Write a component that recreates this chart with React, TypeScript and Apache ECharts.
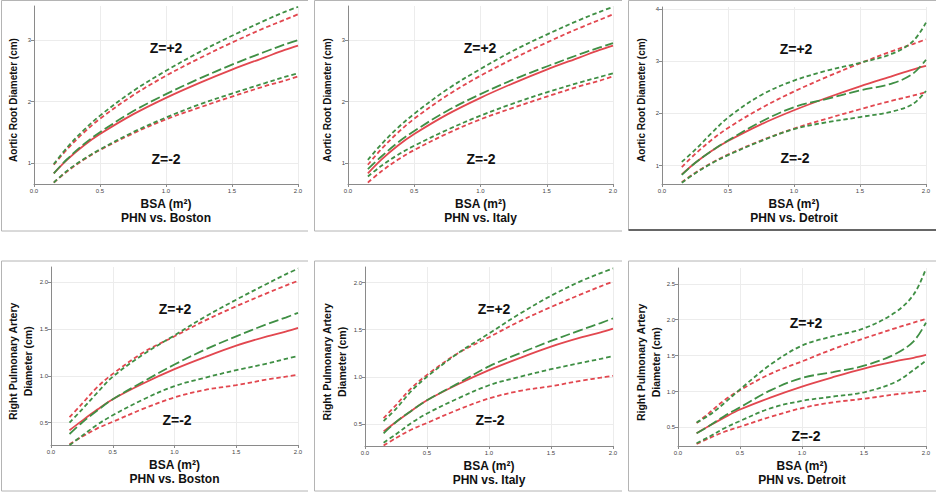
import React, { useEffect, useRef } from "react";
import * as echarts from "echarts";

// ---- Data ----
const BSA = [0.15, 0.25, 0.375, 0.5, 0.75, 1.0, 1.25, 1.5, 1.75, 1.9, 2.0];
const X_TICKS = [0, 0.5, 1, 1.5, 2];

// Aortic root, PHN reference (red)
const AOR_PHN_MEAN = [0.83, 1.05, 1.28, 1.47, 1.79, 2.06, 2.3, 2.52, 2.72, 2.84, 2.91];
const AOR_PHN_PLUS2 = [0.97, 1.22, 1.49, 1.72, 2.1, 2.42, 2.7, 2.96, 3.2, 3.33, 3.42];
const AOR_PHN_MINUS2 = [0.68, 0.86, 1.05, 1.21, 1.48, 1.71, 1.9, 2.08, 2.25, 2.34, 2.41];
// Aortic root, Boston (green)
const AOR_BOS_MEAN = [0.83, 1.06, 1.3, 1.5, 1.84, 2.12, 2.37, 2.6, 2.81, 2.93, 3.0];
const AOR_BOS_PLUS2 = [0.98, 1.25, 1.53, 1.77, 2.17, 2.5, 2.8, 3.07, 3.32, 3.46, 3.54];
const AOR_BOS_MINUS2 = [0.68, 0.87, 1.06, 1.22, 1.5, 1.74, 1.95, 2.13, 2.3, 2.4, 2.46];
// Aortic root, Italy (green)
const AOR_ITA_MEAN = [0.9, 1.1, 1.33, 1.52, 1.85, 2.12, 2.36, 2.57, 2.77, 2.88, 2.95];
const AOR_ITA_PLUS2 = [1.05, 1.3, 1.57, 1.8, 2.2, 2.53, 2.83, 3.09, 3.33, 3.46, 3.54];
const AOR_ITA_MINUS2 = [0.78, 0.95, 1.13, 1.28, 1.54, 1.77, 1.97, 2.15, 2.31, 2.4, 2.46];
// Aortic root, Detroit (green)
const AOR_DET_MEAN = [0.82, 1.05, 1.28, 1.48, 1.84, 2.12, 2.28, 2.44, 2.58, 2.76, 3.03];
const AOR_DET_PLUS2 = [1.07, 1.3, 1.62, 1.92, 2.35, 2.63, 2.82, 2.97, 3.15, 3.38, 3.74];
const AOR_DET_MINUS2 = [0.67, 0.85, 1.04, 1.2, 1.47, 1.7, 1.83, 1.93, 2.04, 2.18, 2.43];

// Right pulmonary artery, PHN reference (red)
const RPA_PHN_MEAN = [0.42, 0.52, 0.64, 0.75, 0.92, 1.07, 1.2, 1.32, 1.42, 1.47, 1.51];
const RPA_PHN_PLUS2 = [0.56, 0.7, 0.88, 1.02, 1.25, 1.42, 1.59, 1.74, 1.88, 1.96, 2.01];
const RPA_PHN_MINUS2 = [0.27, 0.35, 0.44, 0.51, 0.65, 0.77, 0.85, 0.9, 0.96, 0.99, 1.01];
// RPA, Boston (green)
const RPA_BOS_MEAN = [0.38, 0.5, 0.63, 0.75, 0.94, 1.12, 1.28, 1.42, 1.55, 1.62, 1.67];
const RPA_BOS_PLUS2 = [0.5, 0.64, 0.82, 0.99, 1.23, 1.43, 1.63, 1.81, 1.98, 2.08, 2.14];
const RPA_BOS_MINUS2 = [0.26, 0.36, 0.48, 0.58, 0.75, 0.89, 0.98, 1.06, 1.13, 1.18, 1.21];
// RPA, Italy (green)
const RPA_ITA_MEAN = [0.4, 0.52, 0.64, 0.75, 0.93, 1.11, 1.25, 1.38, 1.5, 1.57, 1.62];
const RPA_ITA_PLUS2 = [0.53, 0.66, 0.85, 1.0, 1.25, 1.46, 1.67, 1.86, 2.02, 2.1, 2.15];
const RPA_ITA_MINUS2 = [0.3, 0.39, 0.51, 0.61, 0.77, 0.91, 1.0, 1.08, 1.15, 1.19, 1.22];
// RPA, Detroit (green)
const RPA_DET_MEAN = [0.42, 0.52, 0.66, 0.78, 1.02, 1.19, 1.27, 1.36, 1.52, 1.7, 1.96];
const RPA_DET_PLUS2 = [0.57, 0.67, 0.84, 1.03, 1.38, 1.64, 1.77, 1.88, 2.1, 2.35, 2.71];
const RPA_DET_MINUS2 = [0.28, 0.37, 0.49, 0.59, 0.77, 0.87, 0.93, 0.99, 1.13, 1.3, 1.43];

const AOR_TICKS_3 = [1, 2, 3];
const AOR_TICKS_4 = [1, 2, 3, 4];
const RPA_TICKS_4 = [0.5, 1.0, 1.5, 2.0];
const RPA_TICKS_5 = [0.5, 1.0, 1.5, 2.0, 2.5];

const TITLES = ["PHN vs. Boston", "PHN vs. Italy", "PHN vs. Detroit"];
const X_NAME = "BSA (m²)";
const Y_NAME_AOR = "Aortic Root Diameter (cm)";
const Y_NAME_RPA = "Right Pulmonary Artery\nDiameter (cm)";

// ---- Styles / layout ----
const RED = "#e2474f";
const GREEN = "#3f8f44";
const SHORT_DASH = [4.5, 2.8];
const LONG_DASH = [10, 3.5];
const FONT = '"Liberation Sans", Arial, sans-serif';

interface Panel {
  grid: { left: number; top: number; width: number; height: number };
  yMin: number;
  yMax: number;
  yTicks: number[];
  intLabels: boolean;
  title: string;
  yName: string;
  yNameX: number;
  zPlus: [number, number];
  zMinus: [number, number];
  frame: { x0: number; y0: number; x1: number; y1: number };
  red: number[][];
  green: number[][];
}

const PANELS: Panel[] = [
  {
    grid: { left: 34, top: 6, width: 264, height: 178 },
    yMin: 0.657, yMax: 3.555, yTicks: AOR_TICKS_3, intLabels: true,
    title: TITLES[0], yName: Y_NAME_AOR, yNameX: 13,
    zPlus: [166, 48], zMinus: [166, 159],
    frame: { x0: 1.5, y0: 0.5, x1: 308, y1: 231 },
    red: [AOR_PHN_MEAN, AOR_PHN_PLUS2, AOR_PHN_MINUS2],
    green: [AOR_BOS_MEAN, AOR_BOS_PLUS2, AOR_BOS_MINUS2],
  },
  {
    grid: { left: 348, top: 6, width: 265, height: 178 },
    yMin: 0.657, yMax: 3.555, yTicks: AOR_TICKS_3, intLabels: true,
    title: TITLES[1], yName: Y_NAME_AOR, yNameX: 327,
    zPlus: [480, 48], zMinus: [481, 159],
    frame: { x0: 314.5, y0: 0.5, x1: 622, y1: 231 },
    red: [AOR_PHN_MEAN, AOR_PHN_PLUS2, AOR_PHN_MINUS2],
    green: [AOR_ITA_MEAN, AOR_ITA_PLUS2, AOR_ITA_MINUS2],
  },
  {
    grid: { left: 662, top: 7, width: 264, height: 177 },
    yMin: 0.647, yMax: 4.04, yTicks: AOR_TICKS_4, intLabels: true,
    title: TITLES[2], yName: Y_NAME_AOR, yNameX: 641,
    zPlus: [796, 49], zMinus: [795, 158],
    frame: { x0: 628.5, y0: 0.5, x1: 936, y1: 230 },
    red: [AOR_PHN_MEAN, AOR_PHN_PLUS2, AOR_PHN_MINUS2],
    green: [AOR_DET_MEAN, AOR_DET_PLUS2, AOR_DET_MINUS2],
  },
  {
    grid: { left: 51, top: 267, width: 247, height: 178 },
    yMin: 0.263, yMax: 2.158, yTicks: RPA_TICKS_4, intLabels: false,
    title: TITLES[0], yName: Y_NAME_RPA, yNameX: 20.5,
    zPlus: [175, 309], zMinus: [177, 420],
    frame: { x0: 1.5, y0: 261, x1: 308, y1: 491 },
    red: [RPA_PHN_MEAN, RPA_PHN_PLUS2, RPA_PHN_MINUS2],
    green: [RPA_BOS_MEAN, RPA_BOS_PLUS2, RPA_BOS_MINUS2],
  },
  {
    grid: { left: 365, top: 267, width: 248, height: 179 },
    yMin: 0.265, yMax: 2.165, yTicks: RPA_TICKS_4, intLabels: false,
    title: TITLES[1], yName: Y_NAME_RPA, yNameX: 334.5,
    zPlus: [494, 309], zMinus: [490, 420],
    frame: { x0: 314.5, y0: 261, x1: 622, y1: 491 },
    red: [RPA_PHN_MEAN, RPA_PHN_PLUS2, RPA_PHN_MINUS2],
    green: [RPA_ITA_MEAN, RPA_ITA_PLUS2, RPA_ITA_MINUS2],
  },
  {
    grid: { left: 678, top: 268, width: 248, height: 178 },
    yMin: 0.242, yMax: 2.72, yTicks: RPA_TICKS_5, intLabels: false,
    title: TITLES[2], yName: Y_NAME_RPA, yNameX: 648,
    zPlus: [806, 323], zMinus: [806, 436],
    frame: { x0: 628.5, y0: 261, x1: 936, y1: 491 },
    red: [RPA_PHN_MEAN, RPA_PHN_PLUS2, RPA_PHN_MINUS2],
    green: [RPA_DET_MEAN, RPA_DET_PLUS2, RPA_DET_MINUS2],
  },
];

const AXIS_COLOR = "#8a8a8a";
const GRID_COLOR = "#ececec";

function textEl(x: number, y: number, text: string, font: string, extra: any = {}) {
  return {
    type: "text",
    x,
    y,
    z: 100,
    silent: true,
    ...extra,
    style: {
      text,
      font,
      fill: "#111",
      align: "center",
      verticalAlign: "middle",
      textAlign: "center",
      textVerticalAlign: "middle",
      lineHeight: extra.lineHeight || undefined,
    },
  };
}

function buildOption() {
  const grid: any[] = [];
  const xAxis: any[] = [];
  const yAxis: any[] = [];
  const series: any[] = [];
  const graphic: any[] = [];

  PANELS.forEach((p, i) => {
    grid.push({ ...p.grid, containLabel: false, show: false });
    xAxis.push({
      type: "value",
      gridIndex: i,
      min: 0,
      max: 2,
      interval: 0.5,
      axisLine: { show: true, onZero: false, lineStyle: { color: AXIS_COLOR, width: 1 } },
      axisTick: { show: true, length: 3, customValues: X_TICKS, lineStyle: { color: AXIS_COLOR } },
      axisLabel: {
        customValues: X_TICKS,
        fontSize: 6,
        fontFamily: FONT,
        color: "#444",
        margin: 4,
        formatter: (v: number) => v.toFixed(1),
      },
      splitLine: { show: true, lineStyle: { color: GRID_COLOR, width: 1 } },
    });
    yAxis.push({
      type: "value",
      gridIndex: i,
      min: p.yMin,
      max: p.yMax,
      axisLine: { show: true, lineStyle: { color: AXIS_COLOR, width: 1 } },
      axisTick: { show: true, length: 3, customValues: p.yTicks, lineStyle: { color: AXIS_COLOR } },
      axisLabel: {
        customValues: p.yTicks,
        fontSize: 6,
        fontFamily: FONT,
        color: "#444",
        margin: 3,
        formatter: (v: number) => (p.intLabels ? String(Math.round(v)) : v.toFixed(1)),
      },
      splitLine: { show: true, lineStyle: { color: GRID_COLOR, width: 1 } },
    });

    const mk = (vals: number[], color: string, dash: any, name: string) => ({
      type: "line",
      name,
      xAxisIndex: i,
      yAxisIndex: i,
      data: BSA.map((x, k) => [x, vals[k]]),
      showSymbol: false,
      symbol: "none",
      smooth: 0.35,
      silent: true,
      lineStyle: { color, width: 1.8, type: dash },
    });
    series.push(mk(p.red[0], RED, "solid", "PHN mean"));
    series.push(mk(p.red[1], RED, SHORT_DASH, "PHN Z=+2"));
    series.push(mk(p.red[2], RED, SHORT_DASH, "PHN Z=-2"));
    series.push(mk(p.green[0], GREEN, LONG_DASH, "Ref mean"));
    series.push(mk(p.green[1], GREEN, SHORT_DASH, "Ref Z=+2"));
    series.push(mk(p.green[2], GREEN, SHORT_DASH, "Ref Z=-2"));

    // frame (left, top, bottom)
    const f = p.frame;
    const darkBottom = i === 2;
    graphic.push({
      type: "polyline",
      silent: true,
      shape: { points: [[f.x1, f.y0], [f.x0, f.y0], [f.x0, f.y1], [f.x1, f.y1]] },
      style: { stroke: "#b4b4b4", lineWidth: 1, fill: "none" },
    });
    if (darkBottom) {
      graphic.push({
        type: "line",
        silent: true,
        shape: { x1: f.x0, y1: f.y1, x2: f.x1, y2: f.y1 },
        style: { stroke: "#666", lineWidth: 2 },
      });
    }

    const g = p.grid;
    const cx = g.left + g.width / 2;
    const axisY = g.top + g.height;
    graphic.push(textEl(cx, axisY + 27, X_NAME + "\n" + p.title, `bold 12px ${FONT}`, { lineHeight: 14 }));
    graphic.push(textEl(p.zPlus[0], p.zPlus[1], "Z=+2", `bold 14px ${FONT}`));
    graphic.push(textEl(p.zMinus[0], p.zMinus[1], "Z=-2", `bold 14px ${FONT}`));
    const yc = g.top + g.height * 0.53;
    graphic.push(
      textEl(p.yNameX, i < 3 ? 100 : yc, p.yName, `bold ${i < 3 ? 10 : 10.5}px ${FONT}`, {
        rotation: Math.PI / 2,
        lineHeight: 15,
      })
    );
  });

  return {
    animation: false,
    backgroundColor: "#ffffff",
    grid,
    xAxis,
    yAxis,
    series,
    graphic: { elements: graphic },
  };
}

export default function App() {
  const ref = useRef<HTMLDivElement>(null);
  useEffect(() => {
    document.body.style.margin = "0";
    if (!ref.current) return;
    const chart = echarts.init(ref.current, undefined, { renderer: "svg" });
    chart.setOption(buildOption() as any);
    return () => chart.dispose();
  }, []);
  return <div ref={ref} style={{ width: 936, height: 492, background: "#fff" }} />;
}
